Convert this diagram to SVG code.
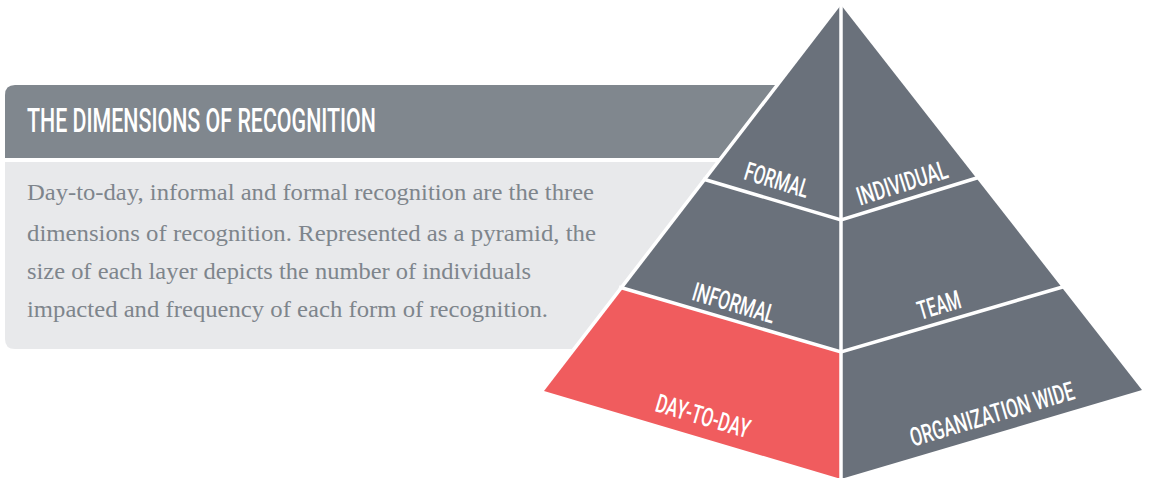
<svg xmlns="http://www.w3.org/2000/svg" width="1149" height="478" viewBox="0 0 1149 478">
  <defs>
    <style>
      .hdr { fill: #80878e; }
      .bodybox { fill: #e8e9eb; }
      .title { font-family: Roboto, "DejaVu Sans Condensed", "Liberation Sans", sans-serif; font-weight: 500; font-size: 33px; fill: #ffffff; }
      .para { font-family: "Liberation Serif", "DejaVu Serif", serif; font-size: 23px; fill: #7e858c; }
      .gray { fill: #6a717b; }
      .red { fill: #f05c5e; }
      .lbl { font-family: Roboto, "DejaVu Sans Condensed", "Liberation Sans", sans-serif; font-weight: 500; font-size: 26px; fill: #ffffff; text-anchor: middle; }
      .div { fill: none; stroke: #ffffff; stroke-width: 3.5; }
    </style>
  </defs>

  <g id="header">
    <path class="hdr" d="M5,158 L5,95 Q5,85 15,85 L800,85 L800,158 Z"/>
    <text class="title" x="27" y="132" textLength="349" lengthAdjust="spacingAndGlyphs">THE DIMENSIONS OF RECOGNITION</text>
  </g>

  <g id="description">
    <path class="bodybox" d="M5,162 L800,162 L800,349 L15,349 Q5,349 5,339 Z"/>
    <text class="para" x="27" y="200" textLength="567" lengthAdjust="spacingAndGlyphs">Day-to-day, informal and formal recognition are the three</text>
    <text class="para" x="27" y="241" textLength="569" lengthAdjust="spacingAndGlyphs">dimensions of recognition. Represented as a pyramid, the</text>
    <text class="para" x="27" y="279" textLength="504" lengthAdjust="spacingAndGlyphs">size of each layer depicts the number of individuals</text>
    <text class="para" x="27" y="317" textLength="521" lengthAdjust="spacingAndGlyphs">impacted and frequency of each form of recognition.</text>
  </g>

  <g id="pyramid-outline">
    <polygon points="841,5 544,391 841,479 1142,390" fill="#ffffff" stroke="#ffffff" stroke-width="7" stroke-linejoin="round"/>
  </g>

  <g id="formal">
    <polygon class="gray" points="841,5 706.3,180 841,220"/>
    <text class="lbl" x="777" y="189" transform="rotate(17 777 180)" textLength="66" lengthAdjust="spacingAndGlyphs">FORMAL</text>
  </g>
  <g id="individual">
    <polygon class="gray" points="841,5 841,220 976.3,178"/>
    <text class="lbl" x="902" y="192" transform="rotate(-17.5 902 183)" textLength="94" lengthAdjust="spacingAndGlyphs">INDIVIDUAL</text>
  </g>
  <g id="informal">
    <polygon class="gray" points="706.3,180 623.3,288 841,352 841,220"/>
    <text class="lbl" x="734" y="312" transform="rotate(16.5 734 303)" textLength="85" lengthAdjust="spacingAndGlyphs">INFORMAL</text>
  </g>
  <g id="team">
    <polygon class="gray" points="841,220 841,352 1061.5,287 976.3,178"/>
    <text class="lbl" x="939" y="314" transform="rotate(-16.5 939 305)" textLength="44" lengthAdjust="spacingAndGlyphs">TEAM</text>
  </g>
  <g id="day-to-day">
    <polygon class="red" points="623.3,288 544,391 841,479 841,352"/>
    <text class="lbl" x="703" y="425" transform="rotate(16.4 703 416)" textLength="97" lengthAdjust="spacingAndGlyphs">DAY-TO-DAY</text>
  </g>
  <g id="organization-wide">
    <polygon class="gray" points="841,352 841,479 1142,390 1061.5,287"/>
    <text class="lbl" x="992" y="423" transform="rotate(-16.4 992 414)" textLength="170" lengthAdjust="spacingAndGlyphs">ORGANIZATION WIDE</text>
  </g>

  <g id="connectors">
    <line class="div" x1="841" y1="0" x2="841" y2="478"/>
    <polyline class="div" points="703,179 841,220 980,177"/>
    <polyline class="div" points="619,287 841,352 1066,286"/>
  </g>
</svg>
